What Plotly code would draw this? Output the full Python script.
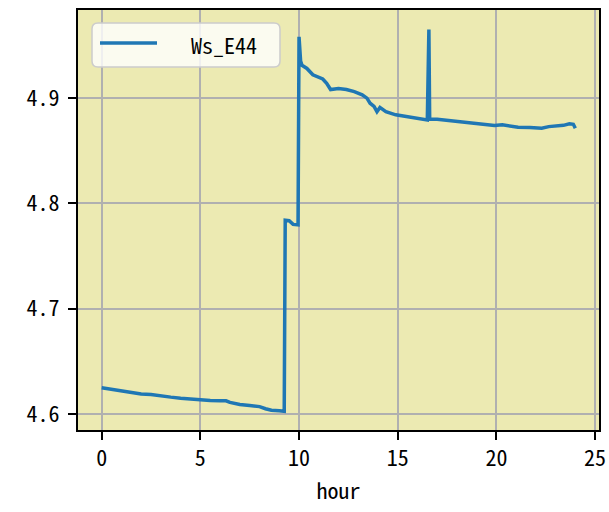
import plotly.graph_objects as go

# ---- data ----
hours = [0.0, 0.3, 0.6, 1.0, 1.5, 2.0, 2.5, 3.0, 3.5, 4.0, 4.5, 5.0, 5.5, 6.0, 6.3, 6.5,
         7.0, 7.5, 8.0, 8.3, 8.6, 9.0, 9.25, 9.3, 9.5, 9.7, 9.95, 10.0, 10.08, 10.15,
         10.4, 10.7, 11.0, 11.2, 11.4, 11.6, 12.0, 12.4, 12.8, 13.2, 13.44, 13.6, 13.8,
         13.95, 14.1, 14.4, 14.9, 15.3, 15.7, 16.1, 16.5, 16.58, 16.62, 17.0, 17.6,
         18.2, 18.8, 19.4, 19.9, 20.3, 20.7, 21.1, 21.7, 22.3, 22.65, 23.0, 23.4, 23.7,
         23.9, 24.0]
ws_e44 = [4.625, 4.624, 4.623, 4.622, 4.6205, 4.619, 4.6185, 4.617, 4.616, 4.615, 4.614,
          4.613, 4.6128, 4.6125, 4.6125, 4.611, 4.609, 4.608, 4.607, 4.605, 4.6035, 4.603,
          4.6025, 4.784, 4.7835, 4.780, 4.7795, 4.958, 4.935, 4.931, 4.928, 4.922, 4.920,
          4.918, 4.914, 4.908, 4.909, 4.908, 4.906, 4.903, 4.8998, 4.895, 4.892, 4.887,
          4.891, 4.887, 4.884, 4.883, 4.882, 4.881, 4.8792, 4.965, 4.880, 4.8798, 4.8785,
          4.877, 4.876, 4.8748, 4.8738, 4.8745, 4.873, 4.8722, 4.872, 4.8713, 4.8728,
          4.873, 4.874, 4.8755, 4.875, 4.8713]
series_name = "Ws_E44"
x_ticks = [0, 5, 10, 15, 20, 25]
y_ticks = [4.6, 4.7, 4.8, 4.9]
y_tick_labels = ["4.6", "4.7", "4.8", "4.9"]
x_label = "hour"

# ---- layout constants ----
W, H = 609, 512
L, R, T, B = 78, 10, 10, 82
PW, PH = W - L - R, H - T - B
FONT = "Noto Sans Mono CJK JP, DejaVu Sans Mono, monospace"
BLUE = "#1f77b4"

def px(xp):
    return (xp - L) / PW

def py(yp):
    return (H - B - yp) / PH

fig = go.Figure()
fig.add_trace(go.Scatter(x=hours, y=ws_e44, mode="lines", name=series_name,
                         line=dict(color=BLUE, width=3.5), showlegend=False))

# manual legend (rounded box, line sample, label)
bx0, bx1, by0, by1, r = 92, 280, 23, 67, 6
path = (f"M {px(bx0 + r)} {py(by0)} L {px(bx1 - r)} {py(by0)} "
        f"Q {px(bx1)} {py(by0)} {px(bx1)} {py(by0 + r)} L {px(bx1)} {py(by1 - r)} "
        f"Q {px(bx1)} {py(by1)} {px(bx1 - r)} {py(by1)} L {px(bx0 + r)} {py(by1)} "
        f"Q {px(bx0)} {py(by1)} {px(bx0)} {py(by1 - r)} L {px(bx0)} {py(by0 + r)} "
        f"Q {px(bx0)} {py(by0)} {px(bx0 + r)} {py(by0)} Z")
fig.add_shape(type="path", path=path, xref="paper", yref="paper",
              fillcolor="rgba(255,255,255,0.8)", line=dict(color="#cccccc", width=1.5))
fig.add_shape(type="line", xref="paper", yref="paper",
              x0=px(100), x1=px(157), y0=py(43), y1=py(43),
              line=dict(color=BLUE, width=3.5))
fig.add_annotation(x=px(189), y=py(44), xref="paper", yref="paper", text=series_name,
                   showarrow=False, xanchor="left", yanchor="middle",
                   font=dict(family=FONT, size=22, color="black"))

axis_common = dict(showline=True, linecolor="black", linewidth=2, mirror=True,
                   ticks="outside", ticklen=8, tickwidth=2, tickcolor="black",
                   showgrid=True, gridcolor="#b0b0b0", gridwidth=1.6, zeroline=False,
                   automargin=False,
                   tickfont=dict(family=FONT, size=22, color="black"))

fig.update_layout(
    width=W, height=H,
    margin=dict(l=L, r=R, t=T, b=B),
    paper_bgcolor="white", plot_bgcolor="#eceab2",
    showlegend=False,
    xaxis=dict(range=[-1.2, 25.2], tickvals=x_ticks, **axis_common,
               title=dict(text=x_label, font=dict(family=FONT, size=22, color="black"),
                          standoff=12)),
    yaxis=dict(range=[4.5848, 4.9835], tickvals=y_ticks, ticktext=y_tick_labels,
               ticklabelstandoff=4, **axis_common),
)

fig.write_html("out.html", config={"displayModeBar": False},
               post_script="document.body.style.margin='0';document.body.style.overflow='hidden';")
